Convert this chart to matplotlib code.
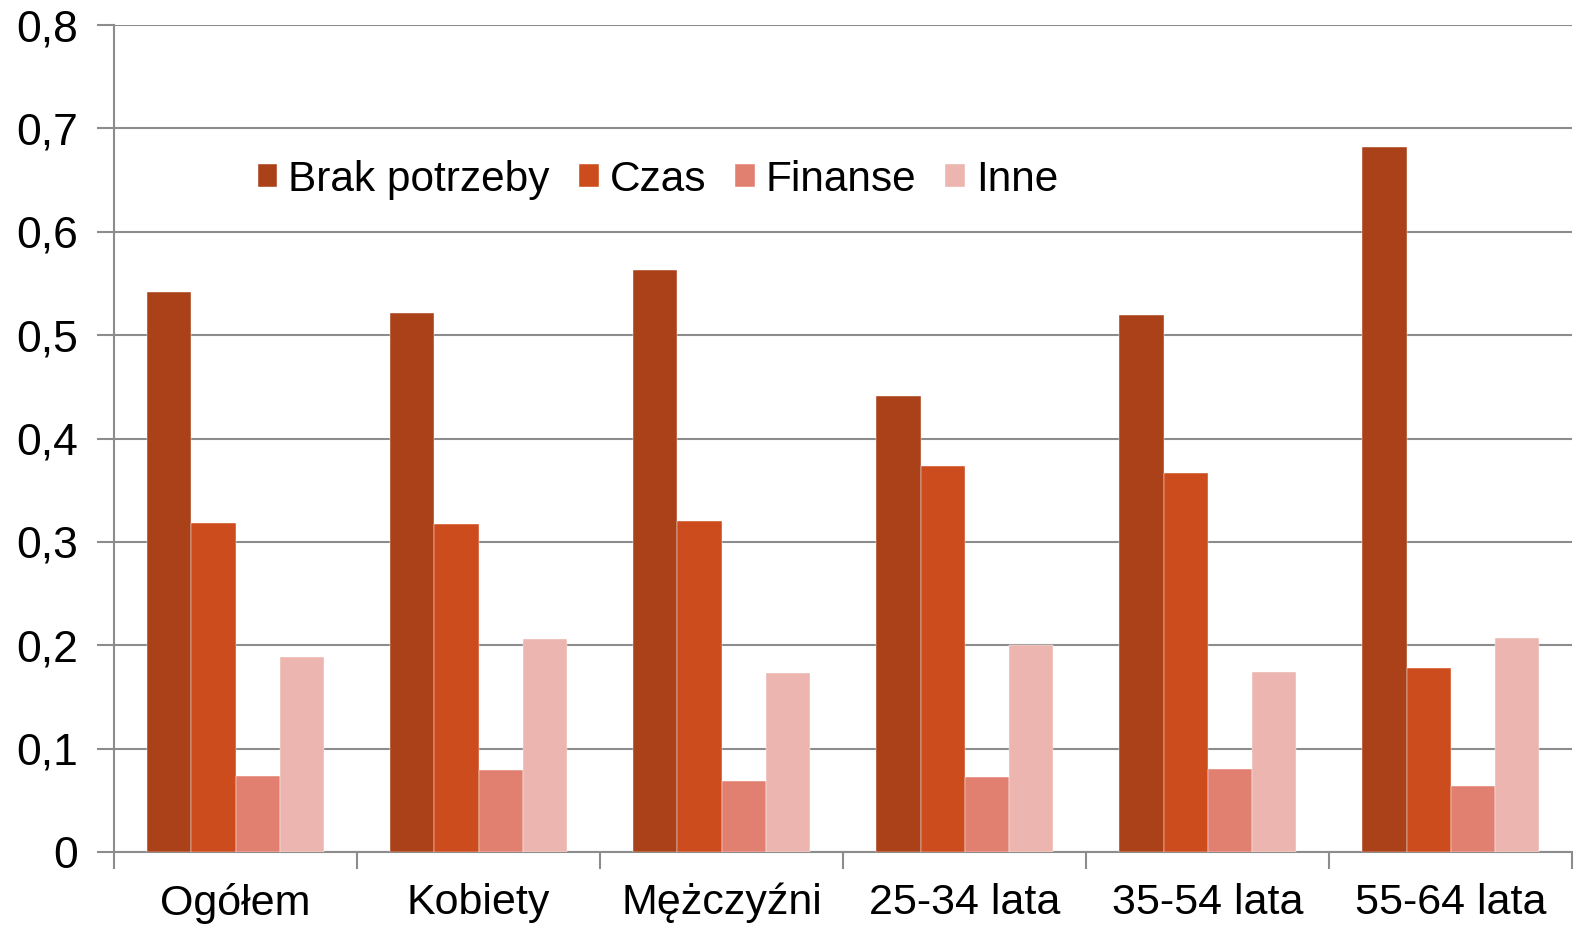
import numpy as np
import matplotlib
matplotlib.use("Agg")
import matplotlib.pyplot as plt
from matplotlib.ticker import FuncFormatter

plt.rcParams['font.family'] = ['Liberation Sans', 'DejaVu Sans']

# data
categories = ['Ogółem', 'Kobiety', 'Mężczyźni', '25-34 lata', '35-54 lata', '55-64 lata']
series_names = ['Brak potrzeby', 'Czas', 'Finanse', 'Inne']
brak = [0.542, 0.521, 0.563, 0.441, 0.520, 0.682]
czas = [0.318, 0.317, 0.320, 0.373, 0.367, 0.178]
finanse = [0.074, 0.079, 0.069, 0.073, 0.080, 0.064]
inne = [0.189, 0.206, 0.173, 0.200, 0.174, 0.207]
colors = ['#AA4119', '#CC4C1E', '#E18070', '#ECB5AF']

fig = plt.figure(figsize=(15.8, 9.27), dpi=100)
ax = fig.add_axes([0.0722, 0.0809, 0.923, 0.892])

x = np.arange(len(categories))
w = 0.182
all_series = [brak, czas, finanse, inne]
for i, (vals, name) in enumerate(zip(all_series, series_names)):
    ax.bar(x + (i - 1.5) * w, vals, width=w, color=colors[i], label=name,
           edgecolor='white', linewidth=0.3, zorder=3)

ax.set_xlim(-0.5, len(categories) - 0.5)
ax.set_ylim(0, 0.8)
ax.set_yticks(np.arange(0, 0.81, 0.1))
ax.yaxis.set_major_formatter(FuncFormatter(
    lambda v, p: '0' if abs(v) < 1e-9 else f'{v:.1f}'.replace('.', ',')))

ax.grid(axis='y', color='#8C8C8C', linewidth=1.5, zorder=0)
for s in ['top', 'right']:
    ax.spines[s].set_visible(False)
for s in ['left', 'bottom']:
    ax.spines[s].set_color('#8C8C8C')
    ax.spines[s].set_linewidth(1.5)

# category labels centred, ticks on boundaries
ax.set_xticks(np.arange(-0.5, len(categories), 1.0))
ax.set_xticklabels([])
ax.set_xticks(x, minor=True)
ax.set_xticklabels(categories, minor=True)
ax.tick_params(axis='x', which='major', length=12, width=1.5, color='#8C8C8C')
ax.tick_params(axis='x', which='minor', length=0, pad=22, labelsize=31)
ax.tick_params(axis='y', length=12, width=1.5, color='#8C8C8C', pad=14, labelsize=32)

ax.legend(loc='center', bbox_to_anchor=(0.373, 0.813), ncol=4, frameon=False,
          fontsize=30.5, handlelength=0.47, handleheight=0.47, handletextpad=0.26,
          columnspacing=0.68)

fig.savefig('out.png', dpi=100)
